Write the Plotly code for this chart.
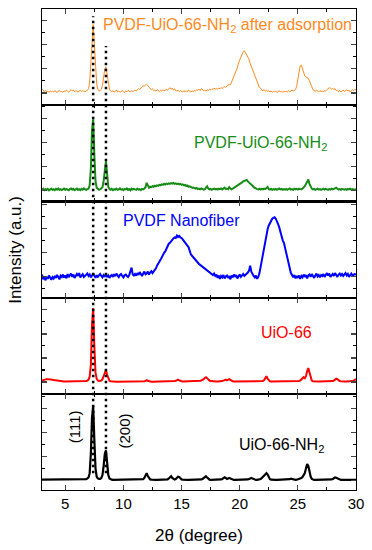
import plotly.graph_objects as go
from plotly.subplots import make_subplots

# 2-theta sampling grid (degree), 3.0 ... 30.0
two_theta = [round(3.0 + 0.1 * i, 1) for i in range(271)]

# Intensities (a.u.), one row per degree
after_adsorption = [
    18, 10, 6, 12, 4, 8, 3, 9, 5, 7,
    4, 10, 6, 2, 8, 11, 5, 7, 3, 9,
    6, 12, 8, 4, 10, 14, 9, 12, 6, 10,
    8, 4, 9, 12, 6, 10, 7, 5, 9, 11,
    18, 45, 120, 230, 282, 205, 95, 38, 16, 9,
    10, 16, 32, 68, 100, 108, 78, 38, 16, 8,
    6, 10, 4, 8, 12, 5, 9, 3, 7, 10,
    6, 2, 9, 5, 11, 7, 4, 10, 6, 8,
    12, 9, 14, 18, 15, 22, 26, 30, 28, 34,
    36, 30, 26, 20, 14, 18, 10, 12, 8, 14,
    10, 6, 12, 8, 14, 9, 11, 16, 12, 18,
    22, 16, 20, 12, 18, 10, 8, 12, 6, 10,
    8, 4, 10, 6, 9, 5, 12, 7, 4, 9,
    6, 10, 8, 14, 12, 16, 10, 18, 14, 10,
    12, 8, 14, 10, 16, 13, 18, 15, 20, 17,
    18, 16, 20, 18, 22, 20, 24, 26, 24, 28,
    30, 36, 34, 46, 52, 68, 78, 96, 104, 124,
    136, 152, 158, 170, 174, 166, 162, 148, 140, 122,
    110, 90, 82, 70, 60, 42, 34, 22, 20, 12,
    10, 14, 8, 12, 6, 10, 4, 8, 3, 7,
    5, 9, 2, 6, 10, 4, 8, 3, 7, 5,
    8, 4, 10, 6, 9, 12, 8, 10, 14, 28,
    62, 90, 112, 115, 100, 82, 70, 66, 64, 60,
    50, 35, 22, 14, 10, 6, 12, 8, 5, 10,
    6, 9, 4, 10, 8, 14, 18, 22, 20, 16,
    20, 14, 18, 10, 12, 6, 10, 4, 8, 12,
    6, 10, 14, 8, 12, 4, 9, 14, 10, 16,
    12,
]

pvdf_uio66_nh2 = [
    4, 8, 2, 6, 3, 7, 1, 5, 8, 3,
    6, 2, 7, 4, 9, 3, 6, 2, 5, 8,
    3, 7, 4, 1, 6, 9, 4, 7, 2, 5,
    8, 3, 6, 2, 7, 4, 9, 5, 3, 6,
    8, 22, 90, 250, 296, 150, 40, 12, 6, 4,
    5, 8, 14, 40, 95, 122, 70, 16, 6, 3,
    7, 2, 6, 4, 8, 3, 5, 9, 4, 6,
    2, 7, 5, 9, 3, 6, 1, 8, 4, 7,
    5, 3, 8, 4, 6, 2, 7, 5, 9, 14,
    32, 18, 12, 16, 14, 18, 16, 20, 18, 22,
    20, 24, 22, 26, 24, 28, 25, 29, 27, 30,
    28, 31, 29, 32, 28, 30, 27, 29, 26, 28,
    24, 26, 22, 24, 19, 21, 16, 18, 14, 12,
    13, 10, 8, 11, 6, 8, 5, 9, 6, 4,
    6, 12, 18, 8, 5, 7, 3, 6, 8, 5,
    7, 4, 8, 6, 9, 5, 8, 12, 6, 8,
    6, 14, 9, 5, 8, 11, 14, 16, 20, 24,
    26, 30, 34, 38, 40, 42, 44, 38, 34, 30,
    24, 20, 14, 10, 8, 6, 5, 8, 4, 7,
    5, 8, 6, 12, 15, 6, 4, 7, 3, 6,
    4, 7, 3, 6, 9, 5, 7, 3, 6, 4,
    7, 3, 6, 9, 4, 6, 3, 8, 5, 7,
    4, 8, 6, 5, 9, 12, 18, 28, 40, 46,
    28, 14, 8, 5, 7, 3, 6, 8, 4, 6,
    3, 6, 8, 4, 7, 5, 3, 6, 4, 8,
    5, 7, 10, 12, 8, 4, 6, 3, 7, 5,
    4, 6, 3, 7, 5, 8, 4, 6, 3, 5,
    6,
]

pvdf_nanofiber = [
    8, -12, -4, -16, -2, -10, 4, -8, -14, -3,
    -9, 2, -6, 6, -4, -12, 3, -2, 8, -5,
    4, -8, 10, -3, 6, 12, -2, 8, -6, 3,
    10, 2, 14, -4, 6, 9, -2, 4, 8, 12,
    2, 8, -4, 6, 12, 3, -6, 5, -2, 4,
    10, 2, -4, 6, 1, 8, -3, 4, -6, 2,
    6, -2, 9, 1, 12, 4, -3, 6, 10, 2,
    -4, 5, 8, 2, -2, 6, 20, 37, 8, 4,
    10, 3, 14, 6, 18, 8, 2, 12, 20, 9,
    12, 20, 8, 16, 22, 14, 20, 24, 34, 46,
    52, 62, 70, 82, 90, 98, 104, 116, 124, 136,
    140, 148, 152, 158, 162, 160, 170, 164, 168, 162,
    160, 154, 146, 140, 136, 128, 122, 106, 92, 86,
    80, 72, 68, 64, 58, 52, 48, 44, 40, 36,
    34, 30, 26, 22, 18, 14, 10, 6, 12, 2,
    8, -6, 4, -10, 2, -4, 6, -8, 0, 4,
    -6, 2, -12, 4, -4, 8, -2, 6, -8, 2,
    8, -2, 4, 10, 2, 6, 12, 16, 24, 45,
    20, 8, 2, -4, 4, -10, -2, 14, 40, 80,
    108, 128, 146, 170, 196, 212, 222, 232, 240, 244,
    246, 240, 232, 218, 204, 184, 166, 150, 140, 120,
    90, 70, 50, 28, 14, 6, -4, 6, -8, 2,
    -6, 4, -10, 2, -4, 8, -2, 6, -8, 4,
    8, -2, 10, 2, -6, 4, 12, 0, 6, -4,
    6, 2, 10, -2, 8, 14, 4, 12, -2, 6,
    10, 2, 14, 6, -2, 8, 12, 4, 10, 2,
    8, 14, 4, 10, -2, 6, 12, 4, 8, 10,
    6,
]

uio66 = [
    6, 8, 10, 11, 12, 12, 12, 11, 10, 9,
    8, 7, 6, 5, 4, 4, 3, 3, 2, 2,
    2, 2, 1, 1, 1, 1, 1, 1, 1, 1,
    1, 1, 1, 1, 2, 2, 2, 3, 4, 6,
    10, 22, 70, 240, 307, 150, 40, 14, 6, 4,
    4, 6, 12, 26, 44, 50, 30, 12, 5, 3,
    2, 2, 1, 1, 1, 1, 1, 1, 1, 1,
    1, 1, 1, 1, 1, 1, 1, 1, 1, 1,
    1, 1, 1, 1, 1, 1, 1, 2, 3, 5,
    8, 5, 3, 2, 1, 1, 1, 1, 1, 1,
    1, 1, 1, 1, 1, 1, 1, 1, 2, 2,
    2, 2, 3, 3, 4, 5, 8, 10, 7, 4,
    3, 2, 2, 2, 2, 2, 2, 2, 2, 2,
    2, 2, 3, 3, 4, 4, 5, 6, 8, 12,
    17, 20, 16, 10, 6, 4, 3, 3, 2, 2,
    2, 2, 2, 3, 3, 4, 6, 9, 10, 7,
    8, 12, 9, 5, 3, 2, 2, 2, 2, 2,
    2, 2, 2, 2, 2, 2, 2, 2, 2, 2,
    2, 4, 5, 3, 2, 2, 2, 2, 2, 3,
    4, 8, 16, 24, 14, 6, 3, 2, 2, 2,
    2, 2, 2, 2, 2, 2, 2, 2, 2, 2,
    2, 2, 3, 4, 5, 4, 3, 2, 2, 2,
    3, 4, 6, 10, 16, 20, 16, 24, 46, 58,
    40, 16, 6, 3, 2, 2, 2, 2, 2, 2,
    2, 2, 2, 2, 2, 2, 2, 2, 3, 3,
    4, 6, 10, 14, 12, 7, 4, 3, 2, 2,
    2, 2, 2, 2, 2, 2, 3, 4, 6, 8,
    12,
]

uio66_nh2 = [
    3, 3, 3, 3, 3, 3, 3, 3, 3, 3,
    3, 4, 4, 5, 5, 5, 5, 4, 4, 3,
    3, 3, 2, 2, 2, 2, 2, 2, 2, 2,
    2, 2, 2, 2, 2, 3, 3, 4, 5, 8,
    12, 30, 110, 260, 310, 170, 50, 16, 8, 6,
    6, 10, 22, 60, 110, 125, 70, 22, 8, 4,
    3, 2, 2, 2, 2, 2, 2, 2, 2, 2,
    2, 2, 2, 2, 2, 2, 2, 2, 2, 2,
    2, 2, 2, 2, 2, 2, 3, 5, 10, 20,
    30, 18, 8, 4, 3, 2, 2, 2, 2, 2,
    2, 2, 2, 2, 2, 2, 2, 3, 4, 8,
    14, 17, 10, 5, 4, 6, 10, 15, 14, 8,
    4, 3, 2, 2, 2, 2, 2, 2, 2, 2,
    2, 2, 2, 2, 2, 2, 3, 4, 6, 10,
    15, 17, 12, 6, 3, 2, 2, 2, 2, 2,
    2, 2, 2, 3, 4, 6, 10, 13, 10, 6,
    8, 10, 8, 5, 3, 2, 2, 2, 2, 2,
    2, 2, 2, 2, 2, 2, 3, 4, 6, 8,
    10, 8, 5, 3, 2, 2, 3, 4, 6, 10,
    14, 20, 26, 30, 24, 12, 5, 3, 2, 2,
    2, 2, 2, 2, 2, 2, 2, 2, 2, 2,
    2, 2, 3, 5, 7, 5, 3, 2, 2, 3,
    4, 6, 8, 10, 14, 20, 30, 50, 68, 60,
    36, 16, 6, 3, 2, 2, 2, 2, 2, 2,
    2, 2, 2, 2, 2, 2, 2, 2, 3, 4,
    6, 9, 12, 11, 8, 5, 3, 2, 2, 2,
    2, 2, 2, 2, 2, 2, 2, 2, 2, 2,
    2,
]

series_names = ["PVDF-UiO-66-NH<sub>2</sub> after adsorption", "PVDF-UiO-66-NH<sub>2</sub>",
                "PVDF Nanofiber", "UiO-66", "UiO-66-NH<sub>2</sub>"]
series_values = [after_adsorption, pvdf_uio66_nh2, pvdf_nanofiber, uio66, uio66_nh2]
peak_positions = [7.4, 8.5]
peak_labels = ["(111)", "(200)"]
x_ticks = [5, 10, 15, 20, 25, 30]

for s in series_values:
    assert len(s) == len(two_theta), len(s)

colors = ["#FF8A1E", "#168C16", "#0000FF", "#FF0000", "#000000"]
widths = [1.0, 2.0, 2.0, 2.0, 2.2]
y_ranges = [(-50, 346), (-45, 355), (-88, 312), (-49, 351), (-40, 360)]
label_pos = [(8.1, 278, "left"), (21.77, 197, "center"), (14.96, 234, "center"),
             (24.05, 207, "center"), (23.6, 145, "center")]

FONT = "Arial, Liberation Sans, sans-serif"

fig = make_subplots(rows=5, cols=1, shared_xaxes=True, vertical_spacing=0)
for i, ys in enumerate(series_values):
    fig.add_trace(go.Scatter(x=two_theta, y=ys, mode="lines",
                             line=dict(color=colors[i], width=widths[i]),
                             showlegend=False, hoverinfo="skip"),
                  row=i + 1, col=1)
    fig.update_yaxes(range=list(y_ranges[i]), row=i + 1, col=1)

fig.update_xaxes(range=[3, 30], tickvals=x_ticks, ticks="inside", ticklen=5, tickwidth=1.2,
                 showline=True, linecolor="black", linewidth=1.1, mirror="ticks",
                 showgrid=False, zeroline=False, ticklabeloverflow="allow",
                 minor=dict(dtick=2.5, tick0=0, ticks="inside", ticklen=3, tickwidth=1.1,
                            tickcolor="black", showgrid=False),
                 tickfont=dict(family=FONT, size=15, color="black"), ticklabelstandoff=0)
fig.update_yaxes(dtick=100, tick0=0, ticks="inside", ticklen=5, tickwidth=1.2,
                 showline=True, linecolor="black", linewidth=1.1, mirror="ticks",
                 showgrid=False, zeroline=False, showticklabels=False,
                 minor=dict(dtick=50, tick0=0, ticks="inside", ticklen=3, tickwidth=1.1,
                            tickcolor="black", showgrid=False))

annotations = []
for i, (name, (lx, ly, anc)) in enumerate(zip(series_names, label_pos)):
    suffix = "" if i == 0 else str(i + 1)
    annotations.append(dict(text=name, x=lx, y=ly, xref="x" + suffix, yref="y" + suffix,
                            xanchor=anc, yanchor="middle", showarrow=False,
                            font=dict(family=FONT, size=16, color=colors[i])))
for lbl, lx, ly in zip(peak_labels, [5.86, 10.09], [222, 205]):
    annotations.append(dict(text=lbl, x=lx, y=ly, xref="x5", yref="y5", textangle=-90,
                            showarrow=False, xanchor="center", yanchor="middle",
                            font=dict(family=FONT, size=15, color="black")))
annotations.append(dict(text="Intensity (a.u.)", x=-0.085, y=0.5, xref="paper", yref="paper",
                        textangle=-90, showarrow=False, xanchor="center", yanchor="middle",
                        font=dict(family=FONT, size=17, color="black")))
annotations.append(dict(text="2θ (degree)", x=0.5, y=-0.095, xref="paper", yref="paper",
                        showarrow=False, xanchor="center", yanchor="middle",
                        font=dict(family=FONT, size=17, color="black")))

shapes = []
for px, top in zip(peak_positions, [0.985, 0.923]):
    shapes.append(dict(type="line", xref="x5", yref="paper", x0=px, x1=px, y0=0.035, y1=top,
                       line=dict(color="black", width=2.5, dash="2.5px,3.5px"), layer="above"))

fig.update_layout(width=372, height=550, margin=dict(l=42, r=14, t=8, b=60),
                  paper_bgcolor="white", plot_bgcolor="white",
                  annotations=annotations, shapes=shapes,
                  font=dict(family=FONT, color="black"))

fig.write_html("out.html", config={"displayModeBar": False, "staticPlot": True})

# remove the browser's default page margin so the figure sits at the window origin
with open("out.html", "r", encoding="utf-8") as fh:
    page = fh.read()
page = page.replace("<head>", "<head><style>html,body{margin:0;padding:0;overflow:hidden;}</style>", 1)
with open("out.html", "w", encoding="utf-8") as fh:
    fh.write(page)
